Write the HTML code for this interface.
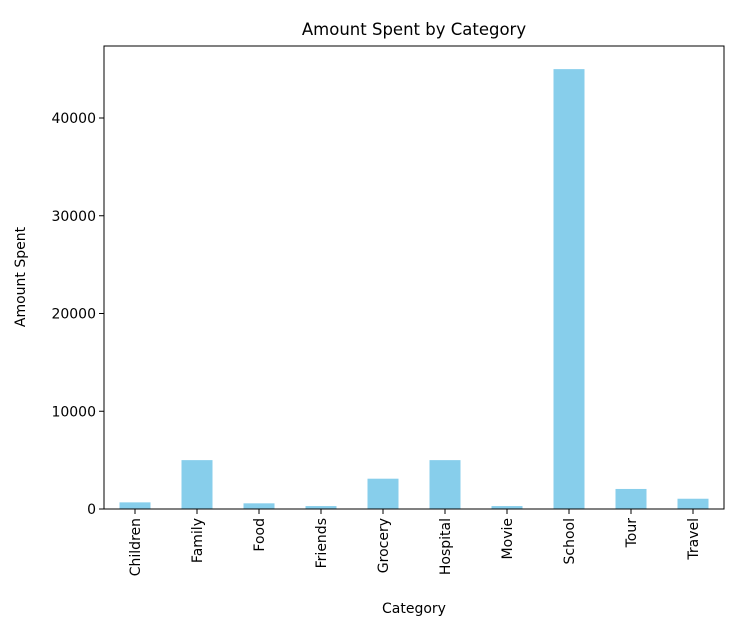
<!DOCTYPE html>
<html><head><meta charset="utf-8"><style>
html,body{margin:0;padding:0;background:#fff;}
svg{display:block;font-family:"DejaVu Sans","Liberation Sans",sans-serif;}
</style></head><body>
<svg id="chart" width="738" height="622">
<text x="414" y="35" text-anchor="middle" font-size="16.5" fill="#000">Amount Spent by Category</text>
<text x="414" y="613" text-anchor="middle" font-size="14" fill="#000">Category</text>
<text transform="translate(25,277) rotate(-90)" text-anchor="middle" font-size="14" fill="#000">Amount Spent</text>
<g id="bars"></g>
<g id="axes"></g>
<rect x="104" y="46" width="620" height="463" fill="none" stroke="#000" stroke-width="1"/>
</svg>
<script>
const categories = ["Children","Family","Food","Friends","Grocery","Hospital","Movie","School","Tour","Travel"];
const amounts = [680, 5000, 580, 300, 3100, 5000, 300, 45000, 2050, 1050];
const yTicks = [0, 10000, 20000, 30000, 40000];
const NS = "http://www.w3.org/2000/svg";
const L = 104, R = 724, T = 46, B = 509;
const band = (R - L) / categories.length;
function xScale(i){ return L + band * (i + 0.5); }
function yScale(v){ return B - v * (B - 118) / 40000; }
const bars = document.getElementById('bars');
const axes = document.getElementById('axes');
function mk(tag, attrs, parent){ const e = document.createElementNS(NS, tag); for (const k in attrs) e.setAttribute(k, attrs[k]); parent.appendChild(e); return e; }
categories.forEach((c, i) => {
  const cx = xScale(i), w = band * 0.5;
  const r = mk('rect', {x: cx - w/2, y: yScale(amounts[i]), width: w, height: B - yScale(amounts[i]), fill: '#87ceeb'}, bars);
  
  
  const t = mk('line', {x1: cx, x2: cx, y1: B, y2: B + 5, stroke: '#000'}, axes);
  
  
  const lb = mk('text', {transform: 'translate(' + (cx + 5) + ',' + (B + 9) + ') rotate(-90)', 'text-anchor': 'end', 'font-size': '14', fill: '#000'}, axes);
  lb.textContent = c;
  
  
});
yTicks.forEach(v => {
  const y = yScale(v);
  const t = mk('line', {x1: L - 5, x2: L, y1: y, y2: y, stroke: '#000'}, axes);
  
  
  const lb = mk('text', {x: L - 8, y: y + 5, 'text-anchor': 'end', 'font-size': '14', fill: '#000'}, axes);
  lb.textContent = v;
  
  
});
</script>
</body></html>
